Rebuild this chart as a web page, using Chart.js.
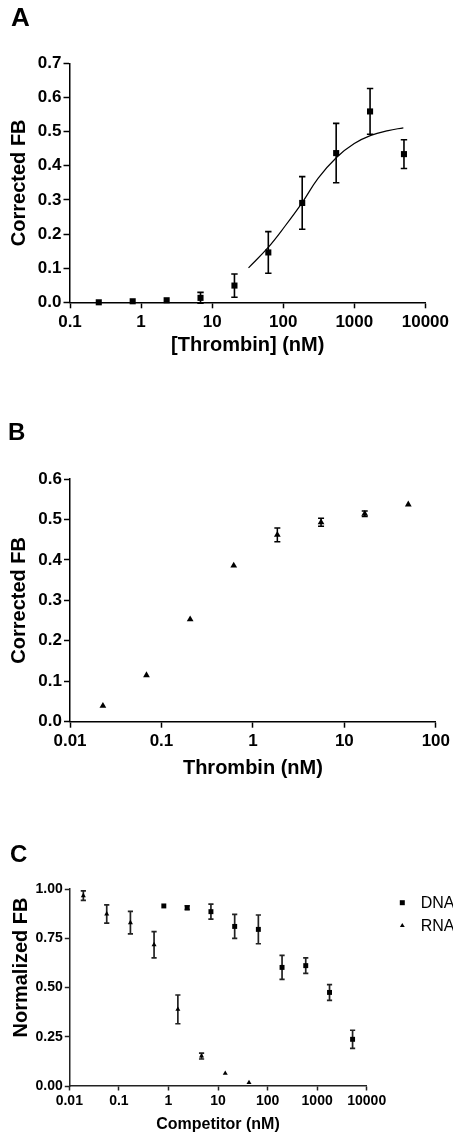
<!DOCTYPE html>
<html><head><meta charset="utf-8">
<script src="https://cdn.jsdelivr.net/npm/chart.js@4.4.1/dist/chart.umd.min.js"></script>
<style>
html,body{margin:0;padding:0;background:#fff;}
body{width:453px;height:1137px;position:relative;overflow:hidden;font-family:"Liberation Sans",Arial,sans-serif;}
canvas{position:absolute;left:0;}
.letter{position:absolute;font-weight:bold;line-height:1;color:#000;z-index:2;}
</style></head><body>
<canvas id="cA" width="453" height="360" style="top:0px"></canvas>
<canvas id="cB" width="453" height="410" style="top:370px"></canvas>
<canvas id="cC" width="453" height="357" style="top:780px"></canvas>
<div class="letter" style="left:11px;top:4px;font-size:26px;">A</div>
<div class="letter" style="left:8px;top:420px;font-size:24px;">B</div>
<div class="letter" style="left:10px;top:842px;font-size:24px;">C</div>
<script>
const FONT = '"Liberation Sans", Arial, sans-serif';

// ---------- Panel A data ----------
const thrombinA = [0.254, 0.762, 2.29, 6.86, 20.6, 61.7, 185, 556, 1667, 5000];
const fbA       = [0.000, 0.003, 0.006, 0.013, 0.049, 0.146, 0.291, 0.437, 0.559, 0.434];
const errA      = [0, 0, 0, 0.016, 0.034, 0.061, 0.077, 0.087, 0.067, 0.042];
const fitThrombinA = [32.5, 61, 105, 185, 309, 566, 1000, 1710, 3000, 4900];
const fitFbA       = [0.101, 0.160, 0.222, 0.292, 0.363, 0.425, 0.465, 0.489, 0.503, 0.511];
const xTicksA = [0.1, 1, 10, 100, 1000, 10000];
const yTicksA = [0, 0.1, 0.2, 0.3, 0.4, 0.5, 0.6, 0.7];

// ---------- Panel B data ----------
const thrombinB = [0.0229, 0.0686, 0.206, 0.617, 1.85, 5.56, 16.7, 50];
const fbB       = [0.039, 0.115, 0.253, 0.386, 0.462, 0.493, 0.514, 0.537];
const errB      = [0, 0, 0, 0, 0.017, 0.010, 0.007, 0];
const xTicksB = [0.01, 0.1, 1, 10, 100];
const yTicksB = [0, 0.1, 0.2, 0.3, 0.4, 0.5, 0.6];

// ---------- Panel C data ----------
const seriesC = ['DNA', 'RNA'];
const competitorDNA = [0.807, 2.39, 7.2, 21.7, 65.2, 196, 589, 1778, 5190];
const fbDNA         = [0.914, 0.905, 0.885, 0.810, 0.795, 0.602, 0.611, 0.475, 0.237];
const errDNA        = [0, 0.010, 0.038, 0.061, 0.073, 0.061, 0.039, 0.040, 0.046];
const competitorRNA = [0.0192, 0.0569, 0.171, 0.513, 1.55, 4.66, 14.0, 42.2];
const fbRNA         = [0.966, 0.873, 0.829, 0.717, 0.389, 0.152, 0.064, 0.017];
const errRNA        = [0.024, 0.046, 0.057, 0.067, 0.073, 0.015, 0, 0];
const xTicksC = [0.01, 0.1, 1, 10, 100, 1000, 10000];
const yTicksC = [0, 0.25, 0.5, 0.75, 1.0];

const pts = (xs, ys) => xs.map((x, i) => ({x: x, y: ys[i]}));

const errorBars = {
  id: 'errorBars',
  beforeDatasetsDraw(chart) {
    const ctx = chart.ctx, xs = chart.scales.x, ys = chart.scales.y;
    chart.data.datasets.forEach(ds => {
      if (!ds.errors) return;
      ctx.save();
      ctx.strokeStyle = ds.errColor || '#000';
      ctx.lineWidth = ds.errWidth || 1.5;
      ds.data.forEach((p, i) => {
        const e = ds.errors[i];
        if (!e) return;
        const px = xs.getPixelForValue(p.x);
        const yt = ys.getPixelForValue(p.y + e);
        const yb = ys.getPixelForValue(p.y - e);
        const c = ds.capHalf || 3;
        ctx.beginPath();
        ctx.moveTo(px, yt); ctx.lineTo(px, yb);
        ctx.moveTo(px - c, yt); ctx.lineTo(px + c, yt);
        ctx.moveTo(px - c, yb); ctx.lineTo(px + c, yb);
        ctx.stroke();
      });
      ctx.restore();
    });
  }
};

function xAxis(o) {
  return {
    type: 'logarithmic', min: o.min, max: o.max,
    afterBuildTicks: s => { s.ticks = o.ticks.map(v => ({value: v})); },
    afterFit: s => { s.height = o.height; },
    ticks: {color: '#000', font: {family: FONT, size: o.fs, weight: 'bold'}, padding: o.pad,
            maxRotation: 0, minRotation: 0, autoSkip: false, callback: v => String(v)},
    grid: {display: true, drawOnChartArea: false, drawTicks: true, tickLength: o.tl, tickWidth: o.lw, tickColor: o.col},
    border: {display: true, color: o.col, width: o.lw},
    title: {display: true, text: o.title, color: '#000',
            font: {family: FONT, size: o.tfs, weight: 'bold', lineHeight: 1.2},
            padding: {top: 0, bottom: o.tpad}}
  };
}
function yAxis(o) {
  return {
    type: 'linear', min: o.min, max: o.max,
    afterBuildTicks: s => { s.ticks = o.ticks.map(v => ({value: v})); },
    afterFit: s => { s.width = o.width; },
    ticks: {color: '#000', font: {family: FONT, size: o.fs, weight: 'bold'}, padding: o.pad,
            autoSkip: false, callback: v => Number(v).toFixed(o.dec)},
    grid: {display: true, drawOnChartArea: false, drawTicks: true, tickLength: o.tl, tickWidth: o.lw, tickColor: o.col},
    border: {display: true, color: o.col, width: o.lw},
    title: {display: !!o.title, text: o.title || '', color: '#000',
            font: {family: FONT, size: 20, weight: 'bold', lineHeight: 1.2},
            padding: {top: 7, bottom: 0}}
  };
}
const common = {
  responsive: false, animation: false, devicePixelRatio: 1, events: [],
  plugins: {legend: {display: false}, tooltip: {enabled: false}, title: {display: false}}
};

// ---------- Chart A ----------
new Chart(document.getElementById('cA'), {
  type: 'scatter',
  data: {datasets: [
    {label: 'data', data: pts(thrombinA, fbA), errors: errA, capHalf: 3.2, errWidth: 1.6,
     pointStyle: 'rect', pointRadius: 4.3, pointBackgroundColor: '#000', pointBorderWidth: 0, clip: false},
    {type: 'line', label: 'fit', data: pts(fitThrombinA, fitFbA), borderColor: '#000', borderWidth: 1.2,
     pointRadius: 0, tension: 0.4, fill: false, clip: false}
  ]},
  options: Object.assign({}, common, {
    layout: {padding: {left: 0, right: 24.7, top: 63.3, bottom: 0}},
    scales: {
      x: xAxis({min: 0.1, max: 10000, ticks: xTicksA, height: 57.7, fs: 17, pad: 4, tl: 6, lw: 1.5, col: '#000',
                title: '[Thrombin] (nM)', tfs: 20, tpad: 3}),
      y: yAxis({min: 0, max: 0.7, ticks: yTicksA, width: 70, fs: 17, pad: 2, tl: 6.5, lw: 1.5, col: '#000',
                dec: 1, title: 'Corrected FB'})
    }
  }),
  plugins: [errorBars]
});

// ---------- Chart B ----------
new Chart(document.getElementById('cB'), {
  type: 'scatter',
  data: {datasets: [
    {label: 'data', data: pts(thrombinB, fbB), errors: errB, capHalf: 3, errWidth: 1.5,
     pointStyle: 'triangle', pointRadius: 3.9, pointBackgroundColor: '#000', pointBorderWidth: 0, clip: false}
  ]},
  options: Object.assign({}, common, {
    layout: {padding: {left: 0, right: 16.3, top: 109, bottom: 0}},
    scales: {
      x: xAxis({min: 0.01, max: 100, ticks: xTicksB, height: 58.3, fs: 17, pad: 3, tl: 6, lw: 1.5, col: '#000',
                title: 'Thrombin (nM)', tfs: 20, tpad: 0}),
      y: yAxis({min: 0, max: 0.6, ticks: yTicksB, width: 70, fs: 17, pad: 2, tl: 6, lw: 1.5, col: '#000',
                dec: 1, title: 'Corrected FB'})
    }
  }),
  plugins: [errorBars]
});

// ---------- Chart C ----------
const legendAndTitleC = {
  id: 'legendAndTitleC',
  afterDraw(chart) {
    const ctx = chart.ctx;
    ctx.save();
    ctx.translate(21, 187.5);
    ctx.rotate(-Math.PI / 2);
    ctx.fillStyle = '#000';
    ctx.font = 'bold 20px ' + FONT;
    ctx.textAlign = 'center';
    ctx.textBaseline = 'middle';
    ctx.fillText('Normalized FB', 0, 0);
    ctx.restore();
    ctx.save();
    ctx.fillStyle = '#000';
    ctx.font = '16px ' + FONT;
    ctx.textBaseline = 'middle';
    ctx.textAlign = 'left';
    chart.data.datasets.forEach((ds, i) => {
      const cy = 122.7 + i * 23;
      const cx = 402.3;
      ctx.beginPath();
      if (ds.pointStyle === 'rect') {
        ctx.rect(cx - 2.5, cy - 2.5, 5, 5);
      } else {
        const r = 2.8;
        ctx.moveTo(cx, cy - r);
        ctx.lineTo(cx + r * 0.866, cy + r * 0.5);
        ctx.lineTo(cx - r * 0.866, cy + r * 0.5);
        ctx.closePath();
      }
      ctx.fill();
      ctx.fillText(ds.label, 420.7, cy + 0.5);
    });
    ctx.restore();
  }
};
new Chart(document.getElementById('cC'), {
  type: 'scatter',
  data: {datasets: [
    {label: seriesC[0], data: pts(competitorDNA, fbDNA), errors: errDNA, capHalf: 2.6, errWidth: 1.7, errColor: '#222',
     pointStyle: 'rect', pointRadius: 3.5, pointBackgroundColor: '#000', pointBorderWidth: 0, clip: false},
    {label: seriesC[1], data: pts(competitorRNA, fbRNA), errors: errRNA, capHalf: 2.6, errWidth: 1.7, errColor: '#222',
     pointStyle: 'triangle', pointRadius: 2.9, pointBackgroundColor: '#000', pointBorderWidth: 0, clip: false}
  ]},
  options: Object.assign({}, common, {
    layout: {padding: {left: 0, right: 86.3, top: 109, bottom: 0}},
    scales: {
      x: xAxis({min: 0.01, max: 10000, ticks: xTicksC, height: 51, fs: 14, pad: 2, tl: 4.5, lw: 1.5, col: '#222',
                title: 'Competitor (nM)', tfs: 16, tpad: 2.4}),
      y: yAxis({min: 0, max: 1, ticks: yTicksC, width: 69.3, fs: 14, pad: 2, tl: 4.5, lw: 1.5, col: '#222',
                dec: 2, title: ''})
    }
  }),
  plugins: [errorBars, legendAndTitleC]
});
</script>
</body></html>
